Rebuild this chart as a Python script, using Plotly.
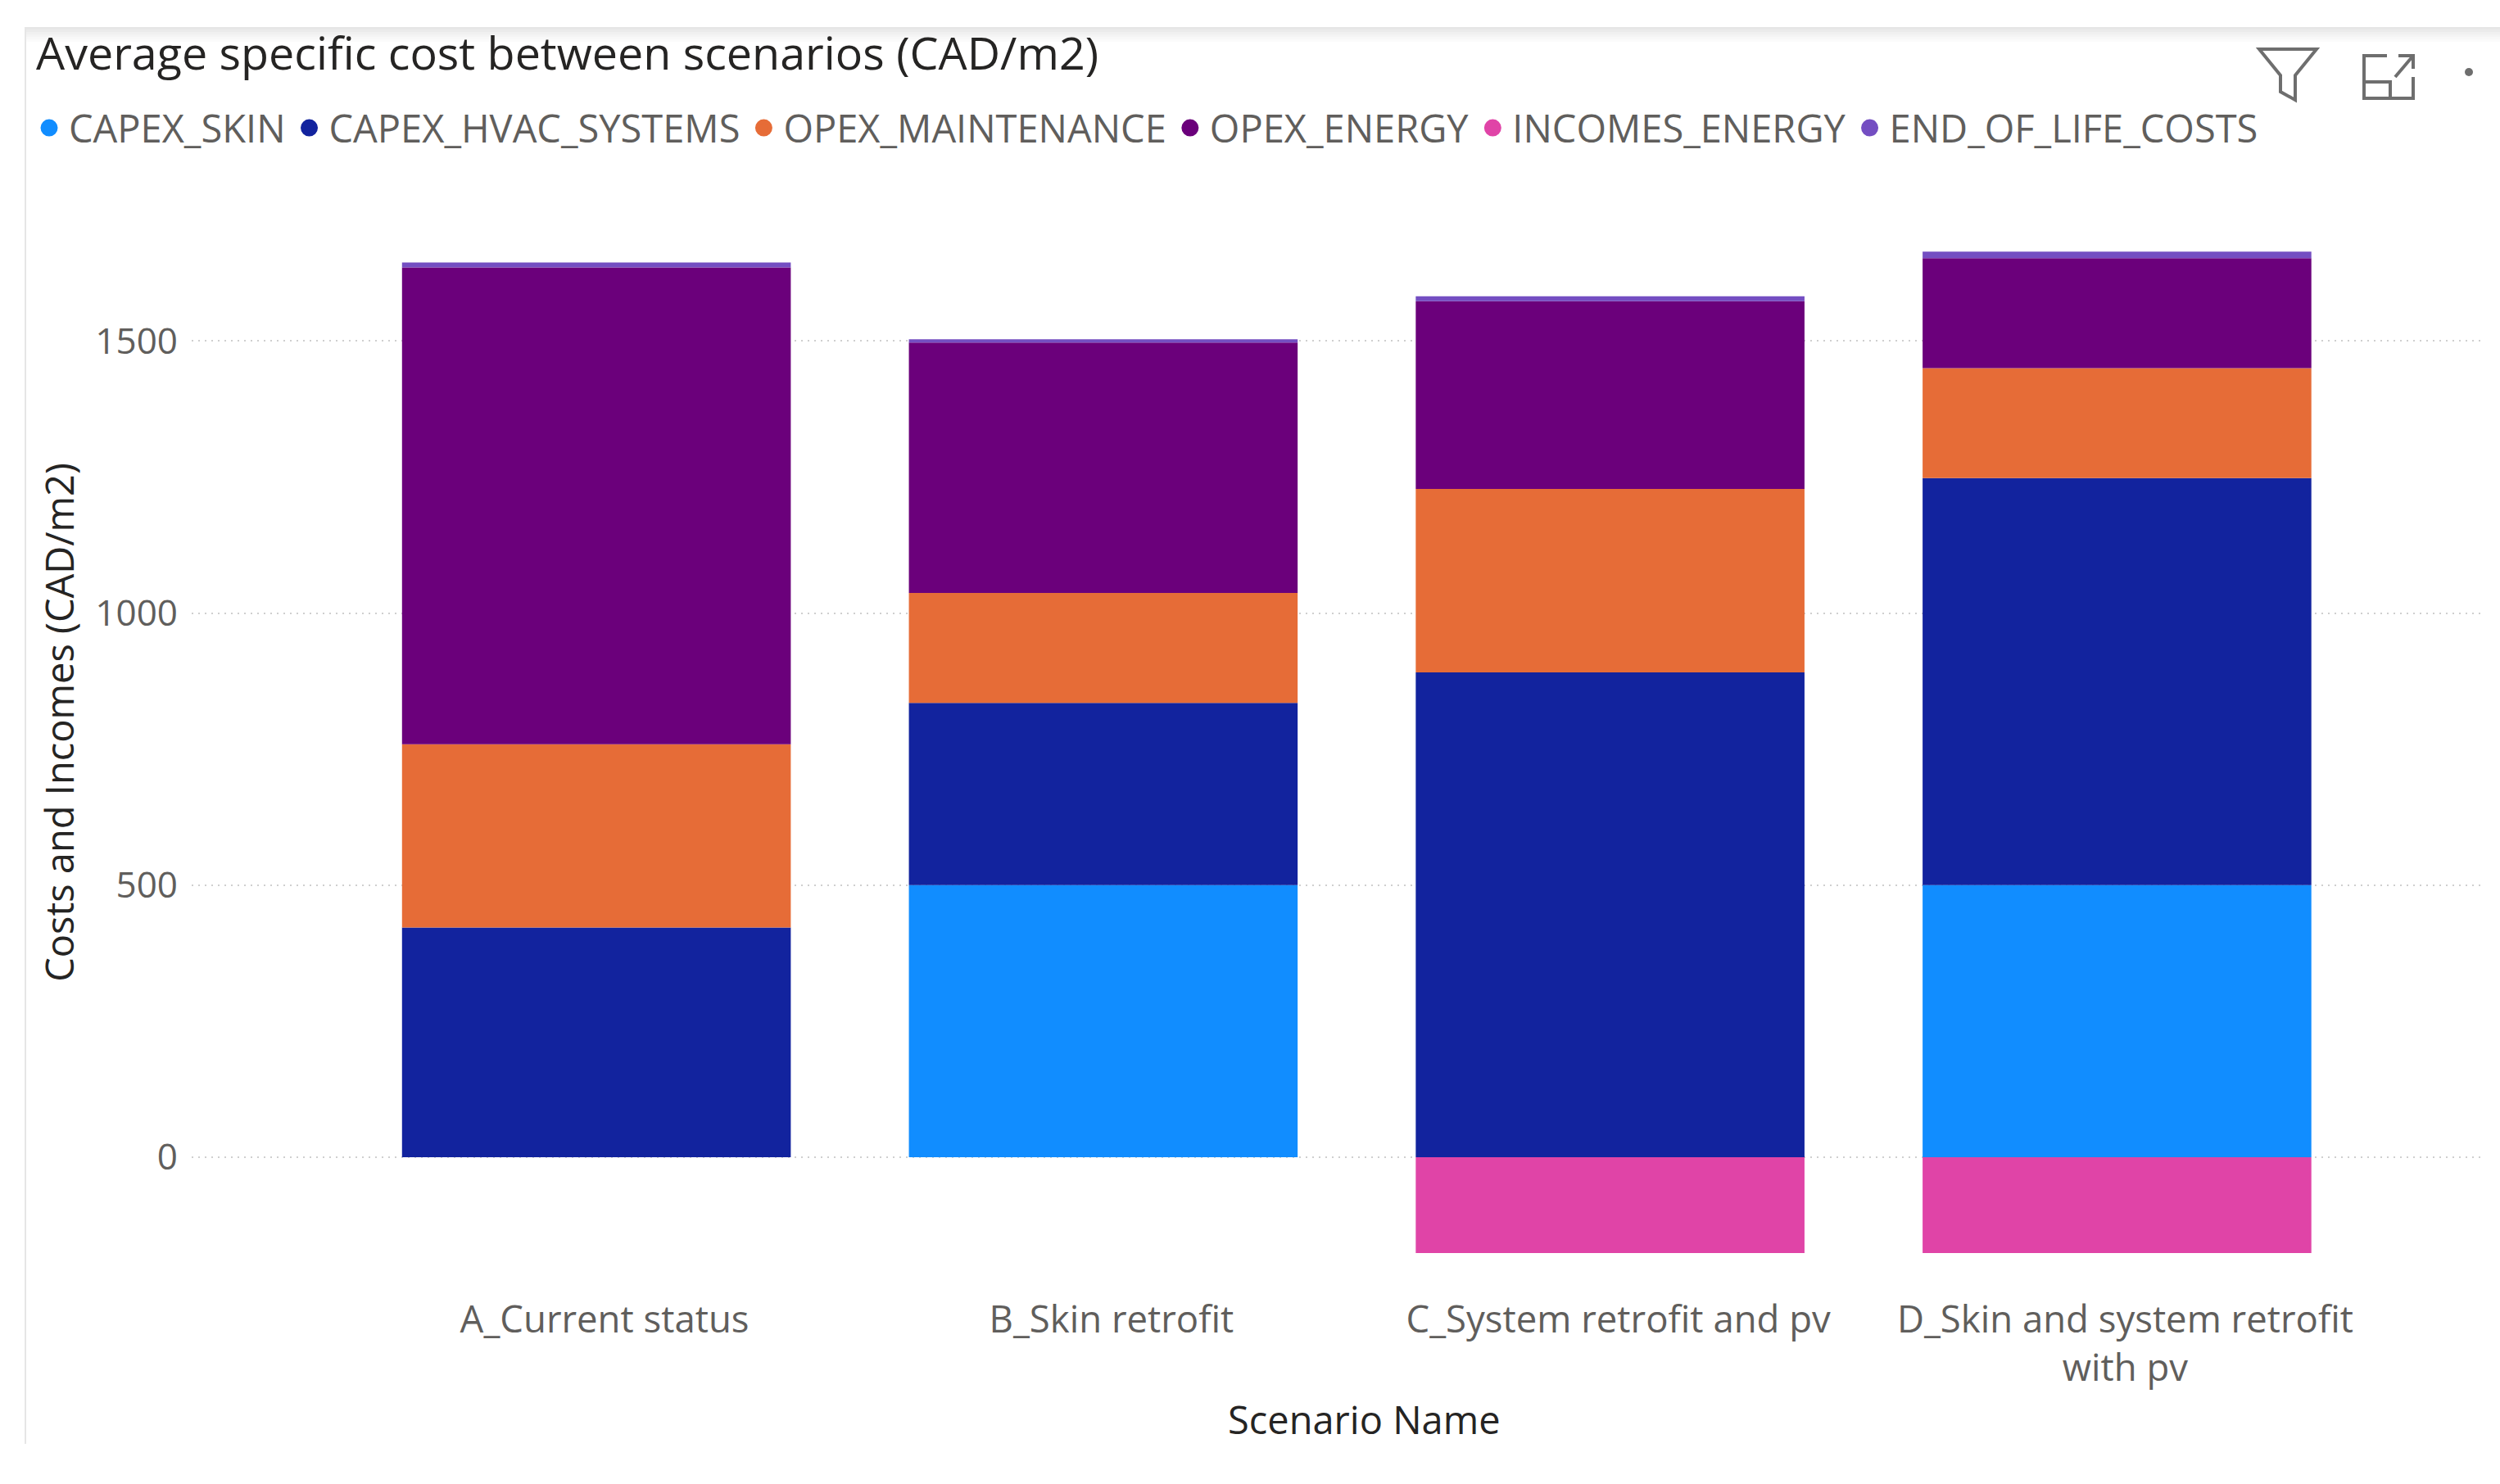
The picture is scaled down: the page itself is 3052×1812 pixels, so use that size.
import plotly.graph_objects as go

W, H = 3052, 1812
scenarios = ["A_Current status", "B_Skin retrofit", "C_System retrofit and pv", "D_Skin and system retrofit<br>with pv"]
capex_skin = [0, 500, 0, 500]
capex_hvac = [422, 335, 891, 748]
opex_maint = [337, 202, 337, 202]
opex_energy = [876, 460, 345, 202]
incomes_energy = [0, 0, -176, -176]
end_of_life = [9, 6, 9, 12]
series_names = ["CAPEX_SKIN", "CAPEX_HVAC_SYSTEMS", "OPEX_MAINTENANCE", "OPEX_ENERGY", "INCOMES_ENERGY", "END_OF_LIFE_COSTS"]
series_values = [capex_skin, capex_hvac, opex_maint, opex_energy, incomes_energy, end_of_life]
series_colors = ["#118DFF", "#12239E", "#E66C37", "#6B007B", "#E044A7", "#744EC2"]
FONT = "Open Sans"


def px(x):
    return x / W


def py(y):
    return 1 - y / H


fig = go.Figure()
for name, vals, col in zip(series_names, series_values, series_colors):
    fig.add_trace(go.Bar(x=scenarios, y=vals, name=name, marker=dict(color=col, line=dict(width=0)),
                         legendgroup=name, showlegend=False))
    fig.add_trace(go.Scatter(x=[None], y=[None], name=name, mode="markers", legendgroup=name,
                             marker=dict(color=col, size=16, symbol="circle", line=dict(color=col, width=5))))

shapes = []
# visual frame: soft top band and thin left rule
for i, c in enumerate(["#e6e6e6", "#ebebeb", "#f0f0f0", "#f4f4f4", "#f8f8f8", "#fbfbfb"]):
    shapes.append(dict(type="rect", xref="paper", yref="paper", x0=px(31), x1=1, y0=py(33 + i * 3), y1=py(33 + (i + 1) * 3),
                       fillcolor=c, line=dict(width=0), layer="below"))
shapes.append(dict(type="line", xref="paper", yref="paper", x0=px(31), x1=px(31), y0=py(33), y1=py(1763),
                   line=dict(color="#e6e6e6", width=2), layer="below"))


def path(points, close=False):
    s = "M " + " L ".join(f"{px(a):.5f},{py(b):.5f}" for a, b in points)
    return s + (" Z" if close else "")


icon = dict(color="#6e6e6e", width=4)
shapes.append(dict(type="path", xref="paper", yref="paper", line=icon,
                   path=path([(2758, 60), (2828, 60), (2802, 92), (2802, 122), (2784, 112), (2784, 92)], True)))
shapes.append(dict(type="path", xref="paper", yref="paper", line=icon,
                   path=path([(2914, 68), (2886, 68), (2886, 120), (2946, 120), (2946, 94)])))
shapes.append(dict(type="path", xref="paper", yref="paper", line=icon,
                   path=path([(2886, 100), (2918, 100), (2918, 120)])))
shapes.append(dict(type="path", xref="paper", yref="paper", line=icon,
                   path=path([(2924, 94), (2946, 68)])))
shapes.append(dict(type="path", xref="paper", yref="paper", line=icon,
                   path=path([(2928, 68), (2946, 68), (2946, 84)])))
shapes.append(dict(type="circle", xref="paper", yref="paper", x0=px(3009), x1=px(3019), y0=py(83), y1=py(93),
                   fillcolor="#6e6e6e", line=dict(width=0)))

fig.update_layout(
    width=W, height=H, autosize=False,
    margin=dict(l=0, r=0, t=0, b=0),
    paper_bgcolor="white", plot_bgcolor="white",
    barmode="relative", bargap=0.233,
    font=dict(family=FONT, color="#605E5C", size=44),
    title=dict(text="Average specific cost between scenarios (CAD/m2)", x=px(44), xanchor="left", y=py(66), yanchor="middle",
               font=dict(size=55.6, color="#252423", family=FONT)),
    legend=dict(orientation="h", x=px(36), xanchor="left", y=py(119), yanchor="top", traceorder="normal",
                itemsizing="trace", itemwidth=38, font=dict(size=47, color="#605E5C", family=FONT),
                bgcolor="rgba(0,0,0,0)"),
    xaxis=dict(domain=[px(234), px(3029)], range=[-0.7985, 3.7185], type="category", categoryorder="array",
               categoryarray=scenarios, showgrid=False, zeroline=False, showline=False, ticks="",
               ticklabelstandoff=10, ticklabelshift=10, tickfont=dict(size=45.5, color="#605E5C")),
    yaxis=dict(domain=[py(1570), py(194)], range=[-236.3, 1834.5], dtick=500, tick0=0, zeroline=False, showline=False,
               ticks="", showgrid=True, gridcolor="#cfcfcf", gridwidth=2, griddash="2px,6px",
               ticklabelstandoff=16, tickfont=dict(size=44, color="#605E5C"),
               title=dict(text="Costs and Incomes (CAD/m2)", standoff=10, font=dict(size=47, color="#252423"))),
    shapes=shapes,
    annotations=[dict(text="Scenario Name", xref="paper", yref="paper", x=px(1666), y=py(1733), xanchor="center",
                      yanchor="middle", showarrow=False, font=dict(size=47, color="#252423", family=FONT))],
)

fig.write_html("out.html", post_script="document.body.style.margin='0';", config=dict(displayModeBar=False))
